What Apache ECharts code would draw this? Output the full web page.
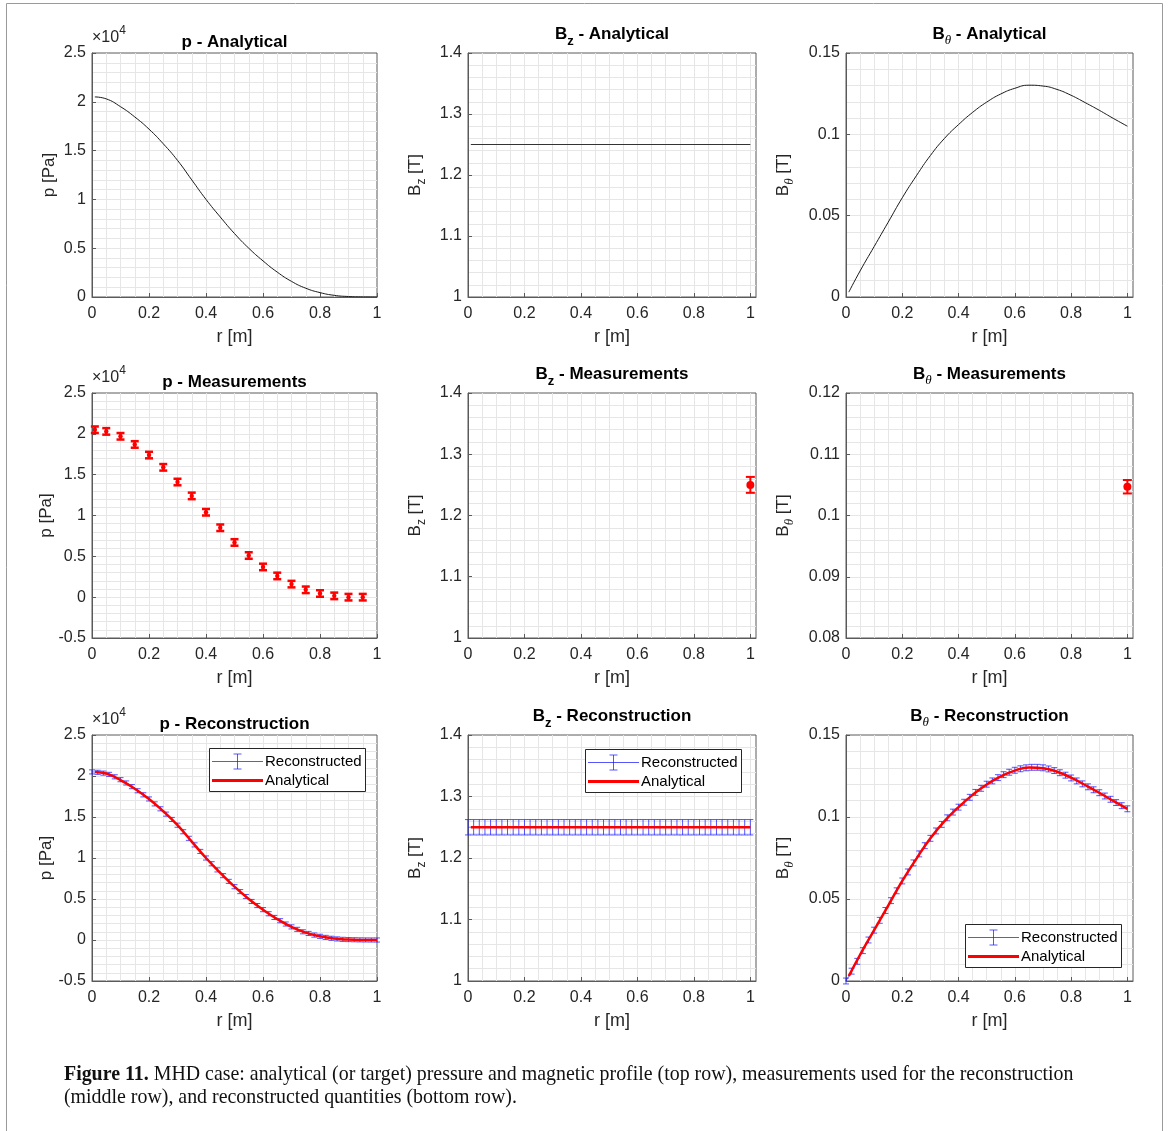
<!DOCTYPE html>
<html>
<head>
<meta charset="utf-8">
<title>Figure 11 - MHD case</title>
<script src="https://cdn.jsdelivr.net/npm/echarts@6/dist/echarts.min.js"></script>
<style>
  html, body { margin: 0; padding: 0; background: #fff; }
  #main { width: 1174px; height: 1131px; }
</style>
</head>
<body>
<div id="main"></div>
<script>
// ---- data (r in m, p in 10^4 Pa, B in T) ----
var rProfile = [0.01, 0.05, 0.10, 0.15, 0.20, 0.25, 0.30, 0.35, 0.40, 0.45, 0.50,
                0.55, 0.60, 0.65, 0.70, 0.75, 0.80, 0.85, 0.90, 0.95, 1.00];
var pProfile = [2.05, 2.03, 1.95, 1.845, 1.72, 1.57, 1.40, 1.20, 1.00, 0.82, 0.65,
                0.50, 0.37, 0.255, 0.16, 0.09, 0.045, 0.017, 0.005, 0.001, 0];
var bzProfile = [1.25, 1.25, 1.25, 1.25, 1.25, 1.25, 1.25, 1.25, 1.25, 1.25, 1.25,
                 1.25, 1.25, 1.25, 1.25, 1.25, 1.25, 1.25, 1.25, 1.25, 1.25];
var bthProfile = [0.003, 0.016, 0.031, 0.046, 0.061, 0.0745, 0.087, 0.0975, 0.106, 0.1135, 0.1198,
                  0.1248, 0.1283, 0.1302, 0.1297, 0.1276, 0.1240, 0.1195, 0.1148, 0.1098, 0.1050];

var rMeas = [0.01, 0.05, 0.10, 0.15, 0.20, 0.25, 0.30, 0.35, 0.40, 0.45,
             0.50, 0.55, 0.60, 0.65, 0.70, 0.75, 0.80, 0.85, 0.90, 0.95];
var pMeas = [2.05, 2.03, 1.97, 1.87, 1.74, 1.59, 1.41, 1.24, 1.04, 0.85,
             0.67, 0.51, 0.37, 0.26, 0.16, 0.09, 0.045, 0.016, 0.0, 0.0];
var pMeasErr = 0.04;
var rEdge = [1.0];
var bzMeas = [1.25];
var bzMeasErr = 0.013;
var bthMeas = [0.1047];
var bthMeasErr = 0.0011;

var rRecon = [0, 0.02, 0.04, 0.06, 0.08, 0.10, 0.12, 0.14, 0.16, 0.18, 0.20, 0.22, 0.24,
              0.26, 0.28, 0.30, 0.32, 0.34, 0.36, 0.38, 0.40, 0.42, 0.44, 0.46, 0.48, 0.50,
              0.52, 0.54, 0.56, 0.58, 0.60, 0.62, 0.64, 0.66, 0.68, 0.70, 0.72, 0.74, 0.76,
              0.78, 0.80, 0.82, 0.84, 0.86, 0.88, 0.90, 0.92, 0.94, 0.96, 0.98, 1.00];
var pRecon = [2.05, 2.045, 2.035, 2.02, 1.99, 1.955, 1.915, 1.87, 1.82, 1.77, 1.72, 1.66, 1.60,
              1.535, 1.47, 1.40, 1.32, 1.24, 1.16, 1.08, 1.00, 0.93, 0.855, 0.785, 0.715, 0.65,
              0.59, 0.53, 0.47, 0.42, 0.37, 0.32, 0.275, 0.235, 0.195, 0.16, 0.13, 0.10, 0.08,
              0.06, 0.045, 0.032, 0.021, 0.013, 0.008, 0.005, 0.003, 0.0015, 0.0007, 0.0002, 0];
var bzRecon = [1.25, 1.25, 1.25, 1.25, 1.25, 1.25, 1.25, 1.25, 1.25, 1.25, 1.25, 1.25, 1.25,
               1.25, 1.25, 1.25, 1.25, 1.25, 1.25, 1.25, 1.25, 1.25, 1.25, 1.25, 1.25, 1.25,
               1.25, 1.25, 1.25, 1.25, 1.25, 1.25, 1.25, 1.25, 1.25, 1.25, 1.25, 1.25, 1.25,
               1.25, 1.25, 1.25, 1.25, 1.25, 1.25, 1.25, 1.25, 1.25, 1.25, 1.25, 1.25];
var bthRecon = [0, 0.006, 0.012, 0.0185, 0.025, 0.031, 0.037, 0.043, 0.049, 0.055, 0.061, 0.0665, 0.072,
                0.0775, 0.0825, 0.087, 0.0915, 0.0955, 0.0995, 0.103, 0.106, 0.109, 0.112, 0.115, 0.1175, 0.120,
                0.122, 0.124, 0.1258, 0.1273, 0.1285, 0.1294, 0.1300, 0.1303, 0.1303, 0.1300, 0.1293, 0.1283, 0.1270,
                0.1255, 0.1238, 0.1220, 0.1202, 0.1184, 0.1166, 0.1148, 0.1128, 0.1108, 0.1088, 0.1069, 0.1050];
var pReconErr = 0.025;
var bzReconErr = 0.0125;
var bthReconErr = 0.0018;

// ---- look ----
var SANS = 'Liberation Sans, Arial, Helvetica, sans-serif';
var SERIF = 'Liberation Serif, Times New Roman, serif';
var TXT = '#262626';
var AXIS = '#5a5a5a';
var MAJOR = '#d4d4d4';
var MINOR = '#e6e6e6';
var BLUE = 'rgba(30,30,255,0.75)';
var RED = '#ff0000';

var colLeft = [92, 468, 846], colWidth = [285, 288, 287];
var rowTop = [53, 393, 735], rowHeight = [244, 245, 246];

var panels = [
  {row: 0, col: 0, kind: 'p',   xMax: 1,    yMin: 0,    yMax: 2.5,  yStep: 0.5,  yMinor: 0.1,   title: 'Analytical'},
  {row: 0, col: 1, kind: 'bz',  xMax: 1.02, yMin: 1,    yMax: 1.4,  yStep: 0.1,  yMinor: 0.02,  title: 'Analytical'},
  {row: 0, col: 2, kind: 'bth', xMax: 1.02, yMin: 0,    yMax: 0.15, yStep: 0.05, yMinor: 0.01,  title: 'Analytical'},
  {row: 1, col: 0, kind: 'p',   xMax: 1,    yMin: -0.5, yMax: 2.5,  yStep: 0.5,  yMinor: 0.1,   title: 'Measurements'},
  {row: 1, col: 1, kind: 'bz',  xMax: 1.02, yMin: 1,    yMax: 1.4,  yStep: 0.1,  yMinor: 0.02,  title: 'Measurements'},
  {row: 1, col: 2, kind: 'bth', xMax: 1.02, yMin: 0.08, yMax: 0.12, yStep: 0.01, yMinor: 0.002, title: 'Measurements'},
  {row: 2, col: 0, kind: 'p',   xMax: 1,    yMin: -0.5, yMax: 2.5,  yStep: 0.5,  yMinor: 0.1,   title: 'Reconstruction'},
  {row: 2, col: 1, kind: 'bz',  xMax: 1.02, yMin: 1,    yMax: 1.4,  yStep: 0.1,  yMinor: 0.02,  title: 'Reconstruction'},
  {row: 2, col: 2, kind: 'bth', xMax: 1.02, yMin: 0,    yMax: 0.15, yStep: 0.05, yMinor: 0.01,  title: 'Reconstruction'}
];

var axisRich = {
  b: {fontSize: 17, lineHeight: 25, color: TXT, fontFamily: SANS},
  s: {fontSize: 12, lineHeight: 12, color: TXT, fontFamily: SANS, verticalAlign: 'bottom'},
  th: {fontSize: 13, lineHeight: 13, color: TXT, fontFamily: SERIF, fontStyle: 'italic', verticalAlign: 'bottom'}
};
var yNames = {p: 'p [Pa]', bz: '{b|B}{s|z}{b| [T]}', bth: '{b|B}{th|θ}{b| [T]}'};
var yGaps = {p: 34, bz: 40, bth: 50};
var titleHead = {p: '{t|p}', bz: '{t|B}{ts|z}', bth: '{t|B}{tth|θ}'};

function pairs(xs, ys) {
  return xs.map(function (x, i) { return [x, ys[i]]; });
}
function triples(xs, ys, e) {
  return xs.map(function (x, i) { return [x, ys[i], e]; });
}

// MATLAB-like error bars drawn through the axes
function errorBars(capHalf, lw, dotR) {
  return function (params, api) {
    var r = api.value(0), v = api.value(1), e = api.value(2);
    var hi = api.coord([r, v + e]);
    var lo = api.coord([r, v - e]);
    var c = api.coord([r, v]);
    var color = api.visual('color');
    function st() { return {stroke: color, lineWidth: lw, fill: null}; }
    var kids = [
      {type: 'line', shape: {x1: c[0], y1: hi[1], x2: c[0], y2: lo[1]}, style: st()},
      {type: 'line', shape: {x1: c[0] - capHalf, y1: hi[1], x2: c[0] + capHalf, y2: hi[1]}, style: st()},
      {type: 'line', shape: {x1: c[0] - capHalf, y1: lo[1], x2: c[0] + capHalf, y2: lo[1]}, style: st()}
    ];
    if (dotR) {
      kids.push({type: 'circle', shape: {cx: c[0], cy: c[1], r: dotR}, style: {fill: color}});
    }
    return {type: 'group', children: kids};
  };
}

var grids = [], xAxes = [], yAxes = [], series = [], graphics = [];

panels.forEach(function (pn, i) {
  var left = colLeft[pn.col], top = rowTop[pn.row];
  var w = colWidth[pn.col], h = rowHeight[pn.row];
  grids.push({left: left, top: top, width: w, height: h, show: true,
              borderColor: AXIS, borderWidth: 1, backgroundColor: 'transparent'});

  // major x axis (labels) and minor x axis (fine grid)
  xAxes.push({
    gridIndex: i, type: 'value', position: 'bottom', min: 0, max: pn.xMax, interval: 0.2,
    name: 'r [m]', nameLocation: 'middle', nameGap: 31,
    nameTextStyle: {fontSize: 18, color: TXT, fontFamily: SANS},
    axisLine: {show: true, onZero: false, lineStyle: {color: AXIS}},
    axisTick: {show: true, inside: true, length: 4, lineStyle: {color: AXIS}},
    axisLabel: {fontSize: 16, color: TXT, fontFamily: SANS, margin: 9,
                showMinLabel: true, showMaxLabel: pn.xMax === 1},
    splitLine: {show: true, showMinLine: false, showMaxLine: false, lineStyle: {color: MAJOR}}
  });
  xAxes.push({
    gridIndex: i, type: 'value', position: 'top', min: 0, max: pn.xMax, interval: 0.05,
    axisLine: {show: false}, axisTick: {show: false}, axisLabel: {show: false},
    splitLine: {show: true, showMinLine: false, showMaxLine: false, lineStyle: {color: MINOR}}
  });
  yAxes.push({
    gridIndex: i, type: 'value', position: 'left', min: pn.yMin, max: pn.yMax, interval: pn.yStep,
    name: yNames[pn.kind], nameLocation: 'middle', nameGap: yGaps[pn.kind],
    nameTextStyle: {fontSize: 17, color: TXT, fontFamily: SANS, rich: axisRich},
    axisLine: {show: true, onZero: false, lineStyle: {color: AXIS}},
    axisTick: {show: true, inside: true, length: 4, lineStyle: {color: AXIS}},
    axisLabel: {fontSize: 16, color: TXT, fontFamily: SANS, margin: 6,
                showMinLabel: true, showMaxLabel: true},
    splitLine: {show: true, showMinLine: false, showMaxLine: false, lineStyle: {color: MAJOR}}
  });
  yAxes.push({
    gridIndex: i, type: 'value', position: 'right', min: pn.yMin, max: pn.yMax, interval: pn.yMinor,
    axisLine: {show: false}, axisTick: {show: false}, axisLabel: {show: false},
    splitLine: {show: true, showMinLine: false, showMaxLine: false, lineStyle: {color: MINOR}}
  });

  // titles
  graphics.push({
    type: 'text', x: left + w / 2, y: top - (pn.kind === 'p' ? 11 : 19), z: 10,
    style: {
      text: titleHead[pn.kind] + '{t| - ' + pn.title + '}',
      align: 'center', verticalAlign: 'middle',
      rich: {
        t: {fontSize: 17, fontWeight: 'bold', fontFamily: SANS, fill: '#000', lineHeight: 27},
        ts: {fontSize: 13, fontWeight: 'bold', fontFamily: SANS, fill: '#000', lineHeight: 13, verticalAlign: 'bottom'},
        tth: {fontSize: 13, fontStyle: 'italic', fontFamily: SERIF, fill: '#000', lineHeight: 13, verticalAlign: 'bottom'}
      }
    }
  });
  if (pn.kind === 'p') {
    graphics.push({
      type: 'text', x: left, y: top - 15, z: 10,
      style: {
        text: '{a|×10}{e|4}', align: 'left', verticalAlign: 'middle',
        rich: {
          a: {fontSize: 16, fontFamily: SANS, fill: TXT, lineHeight: 26},
          e: {fontSize: 12, fontFamily: SANS, fill: TXT, lineHeight: 12, verticalAlign: 'top'}
        }
      }
    });
  }
});

function ax(i) { return {xAxisIndex: 2 * i, yAxisIndex: 2 * i}; }
function addLine(i, data, color, width) {
  var s = ax(i);
  s.type = 'line'; s.data = data; s.showSymbol = false; s.smooth = 0.5;
  s.lineStyle = {color: color, width: width}; s.itemStyle = {color: color};
  s.animation = false; s.silent = true;
  series.push(s);
}
function addBars(i, data, color, capHalf, lw, dotR) {
  var s = ax(i);
  s.type = 'custom'; s.data = data; s.renderItem = errorBars(capHalf, lw, dotR);
  s.encode = {x: 0, y: 1}; s.itemStyle = {color: color}; s.clip = false;
  s.animation = false; s.silent = true;
  series.push(s);
}

// top row: analytical profiles
addLine(0, pairs(rProfile, pProfile), '#1a1a1a', 1);
addLine(1, pairs(rProfile, bzProfile), '#333333', 1.2);
addLine(2, pairs(rProfile, bthProfile), '#1a1a1a', 1);
// middle row: measurements
addBars(3, triples(rMeas, pMeas, pMeasErr), RED, 4, 2.5, 2.2);
addBars(4, triples(rEdge, bzMeas, bzMeasErr), RED, 4.5, 2, 4);
addBars(5, triples(rEdge, bthMeas, bthMeasErr), RED, 4.5, 2, 4);
// bottom row: reconstruction vs analytical
addBars(6, triples(rRecon, pRecon, pReconErr), BLUE, 3, 1, 0);
addLine(6, pairs(rRecon, pRecon), BLUE, 0.8);
addLine(6, pairs(rProfile, pProfile), RED, 2.5);
addBars(7, triples(rRecon, bzRecon, bzReconErr), BLUE, 3, 1, 0);
addLine(7, pairs(rRecon, bzRecon), BLUE, 0.8);
addLine(7, pairs(rProfile, bzProfile), RED, 2.5);
addBars(8, triples(rRecon, bthRecon, bthReconErr), BLUE, 3, 1, 0);
addLine(8, pairs(rRecon, bthRecon), BLUE, 0.8);
addLine(8, pairs(rProfile, bthProfile), RED, 2.5);

// legend boxes of the reconstruction panels
function legendBox(x, y) {
  var Z = 100;
  function blue() { return {stroke: BLUE, lineWidth: 1}; }
  return {
    type: 'group', x: x, y: y,
    children: [
      {type: 'rect', z: Z, shape: {x: 0.5, y: 0.5, width: 156, height: 43},
       style: {fill: '#fff', stroke: '#262626', lineWidth: 1}},
      {type: 'line', z: Z + 1, shape: {x1: 3, y1: 13.5, x2: 54, y2: 13.5}, style: blue()},
      {type: 'line', z: Z + 1, shape: {x1: 28.5, y1: 6, x2: 28.5, y2: 21}, style: blue()},
      {type: 'line', z: Z + 1, shape: {x1: 24.5, y1: 6, x2: 32.5, y2: 6}, style: blue()},
      {type: 'line', z: Z + 1, shape: {x1: 24.5, y1: 21, x2: 32.5, y2: 21}, style: blue()},
      {type: 'text', z: Z + 1, x: 56, y: 13.5, style: {text: 'Reconstructed', fontSize: 15, fontFamily: SANS,
        fill: '#000', verticalAlign: 'middle'}},
      {type: 'line', z: Z + 1, shape: {x1: 3, y1: 32.5, x2: 54, y2: 32.5}, style: {stroke: RED, lineWidth: 3}},
      {type: 'text', z: Z + 1, x: 56, y: 32.5, style: {text: 'Analytical', fontSize: 15, fontFamily: SANS,
        fill: '#000', verticalAlign: 'middle'}}
    ]
  };
}
graphics.push(legendBox(209, 748));
graphics.push(legendBox(585, 749));
graphics.push(legendBox(965, 924));

// figure frame and caption
graphics.push({
  type: 'polyline', z: 0,
  shape: {points: [[6.5, 1131], [6.5, 3.5], [1162.5, 3.5], [1162.5, 1131]]},
  style: {stroke: '#9a9a9a', lineWidth: 1, fill: null}
});
var capRich = {
  b: {fontSize: 19.9, fontWeight: 'bold', fontFamily: SERIF, fill: '#111'},
  n: {fontSize: 19.9, fontFamily: SERIF, fill: '#111'}
};
graphics.push({
  type: 'text', x: 64, y: 1075,
  style: {text: '{b|Figure 11.}{n| MHD case: analytical (or target) pressure and magnetic profile (top row), measurements used for the reconstruction}',
          verticalAlign: 'middle', rich: capRich}
});
graphics.push({
  type: 'text', x: 64, y: 1098,
  style: {text: '{n|(middle row), and reconstructed quantities (bottom row).}',
          verticalAlign: 'middle', rich: capRich}
});

var chart = echarts.init(document.getElementById('main'), null, {renderer: 'canvas'});
chart.setOption({
  animation: false,
  backgroundColor: '#fff',
  grid: grids,
  xAxis: xAxes,
  yAxis: yAxes,
  series: series,
  graphic: graphics
});
window.addEventListener('resize', chart.resize);
</script>
</body>
</html>
